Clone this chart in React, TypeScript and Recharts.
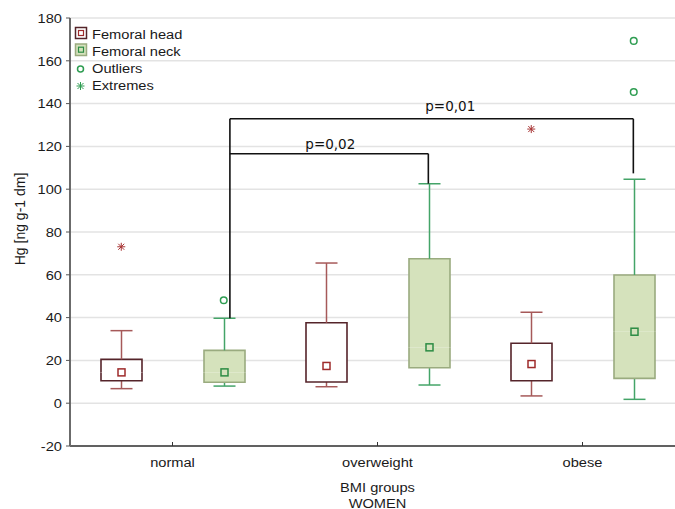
import React from 'react';
import { ComposedChart, Bar, Scatter, XAxis, YAxis, CartesianGrid, ReferenceLine } from 'recharts';

// ---------- data ----------
const categories = ['normal', 'overweight', 'obese'];

const headLow = [6.8, 7.7, 3.4];
const headQ1 = [10.5, 9.9, 10.5];
const headMid = [14.4, 17.4, 18.3];
const headQ3 = [20.5, 37.6, 28.0];
const headHigh = [33.9, 65.5, 42.5];

const neckLow = [8.0, 8.5, 1.8];
const neckQ1 = [9.8, 16.6, 11.6];
const neckMid = [14.4, 26.1, 33.4];
const neckQ3 = [24.7, 67.5, 59.9];
const neckHigh = [39.7, 102.6, 104.6];

const headExtremeGroups = [0, 2];
const headExtremeValues = [73.1, 128.1];
const neckOutlierGroups = [0, 2, 2];
const neckOutlierValues = [48.1, 145.4, 169.3];

const yTicks = [-20, 0, 20, 40, 60, 80, 100, 120, 140, 160, 180];

const bracketLabels = ['p=0,02', 'p=0,01'];
const bracketToGroup = [1, 2];
const bracketLevel = [116.6, 132.9];
const bracketEnd = [102.6, 107.4];
const bracketLabelX = [0.77, 1.355];
const bracketLabelY = [118.6, 136.5];
const bracketStart = 39.7; // top of the normal / femoral neck whisker

// ---------- layout constants ----------
const SERIES_SHIFT = 0.25;
const BRACKET_LEFT_SHIFT = 0.28;
const BRACKET_RIGHT_SHIFT = 0.248;

const HEAD_BOX = '#55242a';
const HEAD_WHISK = '#a65959';
const HEAD_MED = '#9e2b2b';
const EXTREME = '#a83434';
const NECK_FILL = '#d5e2bc';
const NECK_BORDER = '#9aab7f';
const NECK_WHISK = '#44a468';
const NECK_MED = '#2c8c44';
const OUTLIER = '#2f9d52';

const FONT = "'Liberation Sans', Arial, sans-serif";
const SX = 1.085;

const rows = categories.map((cat, i) => ({
  cat,
  hBase: headLow[i],
  hLowW: headQ1[i] - headLow[i],
  hBoxLo: headMid[i] - headQ1[i],
  hBoxHi: headQ3[i] - headMid[i],
  hUpW: headHigh[i] - headQ3[i],
  nBase: neckLow[i],
  nLowW: neckQ1[i] - neckLow[i],
  nBoxLo: neckMid[i] - neckQ1[i],
  nBoxHi: neckQ3[i] - neckMid[i],
  nUpW: neckHigh[i] - neckQ3[i],
}));

const markerPoints = [
  ...headExtremeGroups.map((g, i) => ({ x: g - SERIES_SHIFT, y: headExtremeValues[i], kind: 'extreme' })),
  ...neckOutlierGroups.map((g, i) => ({ x: g + SERIES_SHIFT, y: neckOutlierValues[i], kind: 'outlier' })),
];

const labelPoints = bracketLabels.map((t, i) => ({ x: bracketLabelX[i], y: bracketLabelY[i], text: t }));

// ---------- helpers ----------
function STxt({ x, y, anchor = 'start', size = 13.5, dy, children }: any) {
  return (
    <text
      transform={`translate(${x},${y}) scale(${SX},1)`}
      x={0}
      y={0}
      dy={dy}
      textAnchor={anchor}
      fontSize={size}
      fontFamily={FONT}
      fill="#1a1a1a"
    >
      {children}
    </text>
  );
}

const Empty = () => <g />;

const lowerWhisker = (color: string) => (p: any) => {
  const cx = p.x + p.width / 2;
  const yb = p.y + p.height;
  return (
    <g>
      <line x1={cx} x2={cx} y1={p.y} y2={yb} stroke={color} strokeWidth={1.5} />
      <line x1={cx - 11} x2={cx + 11} y1={yb} y2={yb} stroke={color} strokeWidth={1.5} />
    </g>
  );
};

const upperWhisker = (color: string) => (p: any) => {
  const cx = p.x + p.width / 2;
  const yb = p.y + p.height;
  return (
    <g>
      <line x1={cx} x2={cx} y1={p.y} y2={yb} stroke={color} strokeWidth={1.5} />
      <line x1={cx - 11} x2={cx + 11} y1={p.y} y2={p.y} stroke={color} strokeWidth={1.5} />
    </g>
  );
};

const boxLower = (fill: string, border: string) => (p: any) => {
  const { x, y, width: w, height: h } = p;
  return (
    <g>
      <rect x={x} y={y} width={w} height={h} fill={fill} />
      <path d={`M${x},${y} L${x},${y + h} L${x + w},${y + h} L${x + w},${y}`} fill="none" stroke={border} strokeWidth={1.6} />
    </g>
  );
};

const boxUpper = (fill: string, border: string, med: string) => (p: any) => {
  const { x, y, width: w, height: h } = p;
  const cx = x + w / 2;
  const my = y + h;
  return (
    <g>
      <rect x={x} y={y} width={w} height={h} fill={fill} />
      <path d={`M${x},${y + h} L${x},${y} L${x + w},${y} L${x + w},${y + h}`} fill="none" stroke={border} strokeWidth={1.6} />
      <rect x={cx - 3.5} y={my - 3.5} width={7} height={7} fill={fill} stroke={med} strokeWidth={1.5} />
    </g>
  );
};

const Asterisk = ({ cx, cy, color }: any) => (
  <g stroke={color} strokeWidth={1}>
    <line x1={cx} x2={cx} y1={cy - 4} y2={cy + 4} />
    <line x1={cx - 4} x2={cx + 4} y1={cy} y2={cy} />
    <line x1={cx - 3} x2={cx + 3} y1={cy - 3} y2={cy + 3} />
    <line x1={cx - 3} x2={cx + 3} y1={cy + 3} y2={cy - 3} />
  </g>
);

const MarkerShape = (p: any) => {
  if (p.payload.kind === 'extreme') return <Asterisk cx={p.cx} cy={p.cy} color={EXTREME} />;
  return <circle cx={p.cx} cy={p.cy} r={3.3} fill="none" stroke={OUTLIER} strokeWidth={1.5} />;
};

const LabelShape = (p: any) => (
  <text x={p.cx} y={p.cy} textAnchor="middle" fontSize={13.5} fontFamily="'DejaVu Sans', sans-serif" fill="#111">
    {p.payload.text}
  </text>
);

const YTick = ({ x, y, payload }: any) => (
  <STxt x={x} y={y} anchor="end" dy="0.35em">{payload.value}</STxt>
);

const XTick = ({ x, y, payload }: any) => (
  <STxt x={x} y={y} anchor="middle" dy="0.71em">{payload.value}</STxt>
);

const XLabel = (props: any) => {
  const vb = props.viewBox || { x: 70, y: 446, width: 615 };
  const cx = vb.x + vb.width / 2;
  return (
    <g>
      <STxt x={cx} y={vb.y + 46} anchor="middle">BMI groups</STxt>
      <STxt x={cx} y={vb.y + 61.5} anchor="middle">WOMEN</STxt>
    </g>
  );
};

const YLabel = (props: any) => {
  const vb = props.viewBox || { x: 0, y: 18, width: 70, height: 428 };
  const x = vb.x + 25;
  const y = vb.y + vb.height / 2 - 13;
  return (
    <text transform={`translate(${x},${y}) rotate(-90)`} textAnchor="middle" fontSize={14} fontFamily={FONT} fill="#1a1a1a">
      Hg [ng g-1 dm]
    </text>
  );
};

const Legend = () => (
  <svg width={240} height={100} style={{ position: 'absolute', left: 0, top: 0, pointerEvents: 'none' }}>
    <rect x={75.5} y={27.5} width={11} height={11} fill="#fff" stroke={HEAD_BOX} strokeWidth={1.5} />
    <rect x={78.5} y={30.5} width={5} height={5} fill="#fff" stroke={HEAD_MED} strokeWidth={1.2} />
    <rect x={75.5} y={44} width={11} height={11.5} fill={NECK_FILL} stroke={NECK_BORDER} strokeWidth={1.5} />
    <rect x={78.5} y={47.2} width={5} height={5} fill={NECK_FILL} stroke={NECK_MED} strokeWidth={1.2} />
    <circle cx={80.5} cy={69} r={3} fill="none" stroke={OUTLIER} strokeWidth={1.5} />
    <Asterisk cx={80.5} cy={86} color={OUTLIER} />
    <STxt x={92} y={39}>Femoral head</STxt>
    <STxt x={92} y={55.5}>Femoral neck</STxt>
    <STxt x={92} y={72.5}>Outliers</STxt>
    <STxt x={92} y={90}>Extremes</STxt>
  </svg>
);

export default function App() {
  const lineStyle = { stroke: '#111', strokeWidth: 1.6 };
  return (
    <div style={{ position: 'absolute', left: 0, top: 0, width: 675, height: 509, overflow: 'hidden', background: '#fff' }}>
      <ComposedChart
        width={690}
        height={509}
        data={rows}
        margin={{ top: 18, right: 5, bottom: 0, left: 0 }}
        barGap={62}
      >
        <CartesianGrid xAxisId="cat" vertical={false} stroke="#e3e3e3" strokeWidth={1.5} />
        <XAxis
          xAxisId="cat"
          dataKey="cat"
          type="category"
          height={63}
          tickSize={-4}
          tickMargin={15}
          axisLine={{ stroke: '#333', strokeWidth: 1.5 }}
          tickLine={{ stroke: '#333', strokeWidth: 1 }}
          tick={<XTick />}
          interval={0}
          label={{ content: XLabel }}
        />
        <XAxis
          xAxisId="top"
          dataKey="cat"
          type="category"
          orientation="top"
          height={0}
          tickSize={-4}
          tick={false}
          axisLine={{ stroke: '#333', strokeWidth: 1.2 }}
          tickLine={{ stroke: '#333', strokeWidth: 1 }}
          interval={0}
        />
        <XAxis xAxisId="num" type="number" dataKey="x" domain={[-0.5, 2.5]} allowDataOverflow hide />
        <YAxis
          type="number"
          domain={[-20, 180]}
          ticks={yTicks}
          allowDataOverflow
          interval={0}
          width={70}
          tickSize={4}
          tickMargin={4}
          axisLine={{ stroke: '#6b6b6b', strokeWidth: 2 }}
          tickLine={{ stroke: '#555', strokeWidth: 1 }}
          tick={<YTick />}
          label={{ content: YLabel }}
        />

        <Bar xAxisId="cat" stackId="h" dataKey="hBase" barSize={41} shape={Empty} isAnimationActive={false} />
        <Bar xAxisId="cat" stackId="h" dataKey="hLowW" barSize={41} shape={lowerWhisker(HEAD_WHISK)} isAnimationActive={false} />
        <Bar xAxisId="cat" stackId="h" dataKey="hBoxLo" barSize={41} shape={boxLower('#fff', HEAD_BOX)} isAnimationActive={false} />
        <Bar xAxisId="cat" stackId="h" dataKey="hBoxHi" barSize={41} shape={boxUpper('#fff', HEAD_BOX, HEAD_MED)} isAnimationActive={false} />
        <Bar xAxisId="cat" stackId="h" dataKey="hUpW" barSize={41} shape={upperWhisker(HEAD_WHISK)} isAnimationActive={false} />

        <Bar xAxisId="cat" stackId="n" dataKey="nBase" barSize={41} shape={Empty} isAnimationActive={false} />
        <Bar xAxisId="cat" stackId="n" dataKey="nLowW" barSize={41} shape={lowerWhisker(NECK_WHISK)} isAnimationActive={false} />
        <Bar xAxisId="cat" stackId="n" dataKey="nBoxLo" barSize={41} shape={boxLower(NECK_FILL, NECK_BORDER)} isAnimationActive={false} />
        <Bar xAxisId="cat" stackId="n" dataKey="nBoxHi" barSize={41} shape={boxUpper(NECK_FILL, NECK_BORDER, NECK_MED)} isAnimationActive={false} />
        <Bar xAxisId="cat" stackId="n" dataKey="nUpW" barSize={41} shape={upperWhisker(NECK_WHISK)} isAnimationActive={false} />

        <ReferenceLine
          xAxisId="num"
          segment={[{ x: BRACKET_LEFT_SHIFT, y: bracketStart }, { x: BRACKET_LEFT_SHIFT, y: Math.max(...bracketLevel) }]}
          {...lineStyle}
        />
        {bracketLevel.map((lvl, i) => (
          <ReferenceLine
            key={`h${i}`}
            xAxisId="num"
            segment={[{ x: BRACKET_LEFT_SHIFT, y: lvl }, { x: bracketToGroup[i] + BRACKET_RIGHT_SHIFT, y: lvl }]}
            {...lineStyle}
          />
        ))}
        {bracketLevel.map((lvl, i) => (
          <ReferenceLine
            key={`v${i}`}
            xAxisId="num"
            segment={[{ x: bracketToGroup[i] + BRACKET_RIGHT_SHIFT, y: lvl }, { x: bracketToGroup[i] + BRACKET_RIGHT_SHIFT, y: bracketEnd[i] }]}
            {...lineStyle}
          />
        ))}

        <Scatter xAxisId="num" data={markerPoints} dataKey="y" shape={MarkerShape} isAnimationActive={false} />
        <Scatter xAxisId="num" data={labelPoints} dataKey="y" shape={LabelShape} isAnimationActive={false} />
      </ComposedChart>
      <Legend />
    </div>
  );
}
